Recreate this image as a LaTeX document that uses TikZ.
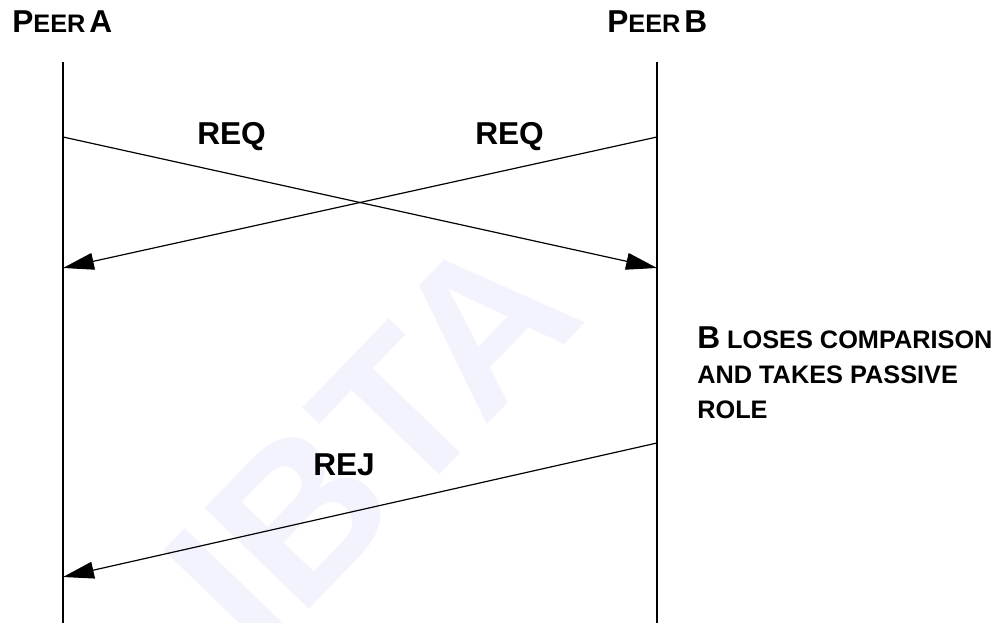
\documentclass[tikz,border=0pt]{standalone}
\usepackage{fontspec}
\setmainfont{Liberation Sans}
\usepackage{tikz}
\usetikzlibrary{
  arrows.meta,
  calc,
  positioning
}
\definecolor{wmark}{RGB}{243,243,253}
\newcommand{\fullcap}[1]{{\fontsize{22.5}{26}\selectfont #1}}
\newcommand{\smallcap}[1]{{\fontsize{18}{21}\selectfont #1}}
\tikzset{
  lifeline/.style={line width=1.4pt},
  msg/.style={line width=0.85pt, -{Triangle[length=22pt,width=12pt]}},
  peer/.style={anchor=base west, inner sep=0pt, font=\bfseries},
  msglabel/.style={anchor=base west, inner sep=0pt, font=\bfseries\fontsize{22.5}{26}\selectfont},
  note/.style={anchor=base west, inner sep=0pt, font=\bfseries\fontsize{18}{21}\selectfont}
}

\begin{document}
\begin{tikzpicture}[x=0.025cm, y=-0.025cm]
  \useasboundingbox (0,0) rectangle (1008,623);
  % watermark
  \node[rotate=46, text=wmark, font=\bfseries\fontsize{150}{155}\selectfont, inner sep=0pt] (wm) at (372,440) {IBTA};
  % lifelines
  \coordinate (Atop) at (63,62);
  \coordinate (Abot) at (63,623);
  \coordinate (Btop) at (657,62);
  \coordinate (Bbot) at (657,623);
  \draw[lifeline] (Atop) -- (Abot);
  \draw[lifeline] (Btop) -- (Bbot);
  % message end points
  \coordinate (A1) at (63,137);
  \coordinate (B1) at (657,268);
  \coordinate (B2) at (657,137);
  \coordinate (A2) at (63,268);
  \coordinate (B3) at (657,443);
  \coordinate (A3) at (63,577);
  \draw[msg] (A1) -- (B1);
  \draw[msg] (B2) -- (A2);
  \draw[msg] (B3) -- (A3);
  % labels
  \node[peer] (peerA) at (12,33) {\fullcap{P}\smallcap{EER} \fullcap{A}};
  \node[peer] (peerB) at (607,33) {\fullcap{P}\smallcap{EER} \fullcap{B}};
  \node[msglabel] (req1) at (197,145) {REQ};
  \node[msglabel] (req2) at (475,145) {REQ};
  \node[msglabel] (rej) at (313,475) {REJ};
  \node[note] (note1) at (697,348) {\fullcap{B} LOSES COMPARISON};
  \node[note] (note2) at (697,383) {AND TAKES PASSIVE};
  \node[note] (note3) at (697,418) {ROLE};
\end{tikzpicture}
\end{document}
